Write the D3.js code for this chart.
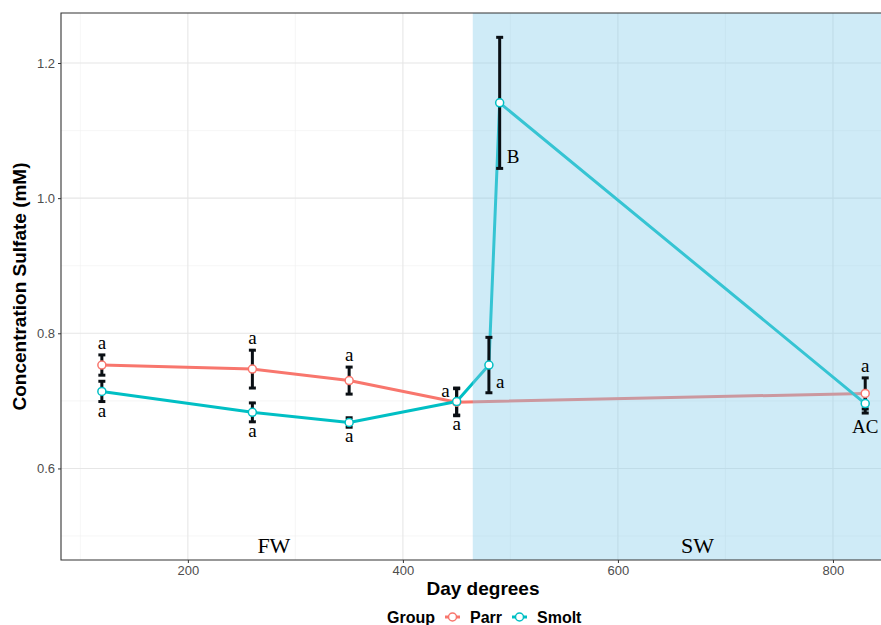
<!DOCTYPE html>
<html lang="en">
  <head>
    <meta charset="UTF-8" />
    <title>Concentration Sulfate</title>
    <style>
      body { margin: 0; background: #fff; }
      svg { display: block; }
    </style>
  </head>
  <body>
    <svg id="Chart"></svg>
    <script src="https://cdnjs.cloudflare.com/ajax/libs/d3/7.8.5/d3.min.js"></script>
    <script>
      // values
      const parrDays = [120, 260, 350, 450, 830];
      const parrMeans = [0.753, 0.747, 0.73, 0.698, 0.711];
      const parrErrors = [0.015, 0.028, 0.02, 0.02, 0.023];
      const parrLetters = ['a', 'a', 'a', 'a', 'a'];
      const parrLetterSide = ['above', 'above', 'above', 'left', 'above'];

      const smoltDays = [120, 260, 350, 450, 480, 490, 830];
      const smoltMeans = [0.714, 0.683, 0.668, 0.699, 0.753, 1.141, 0.696];
      const smoltErrors = [0.015, 0.014, 0.007, 0.02, 0.041, 0.097, 0.014];
      const smoltLetters = ['a', 'a', 'a', 'a', 'a', 'B', 'AC'];
      const smoltLetterSide = ['below', 'below', 'below', 'below', 'right', 'right', 'below'];

      const xTicks = [200, 400, 600, 800];
      const xMinor = [100, 300, 500, 700];
      const yTicks = [0.6, 0.8, 1.0, 1.2];
      const yMinor = [0.5, 0.7, 0.9, 1.1];

      const seawaterStart = 465;
      const phases = [
        { label: 'FW', x: 280 },
        { label: 'SW', x: 674 },
      ];

      function buildSeries(name, days, means, errors, letters, sides, color) {
        let points = days.map((d, i) => ({
          day: d,
          mean: means[i],
          err: errors[i],
          letter: letters[i],
          side: sides[i],
        }));
        return { name, color, points };
      }

      const series = [
        buildSeries('Parr', parrDays, parrMeans, parrErrors, parrLetters, parrLetterSide, '#F8766D'),
        buildSeries('Smolt', smoltDays, smoltMeans, smoltErrors, smoltLetters, smoltLetterSide, '#00BFC4'),
      ];

      function getConfig() {
        let width = 881;
        let height = 625;
        let panel = { left: 61, right: 905, top: 13, bottom: 560 };
        let container = d3.select('#Chart').attr('width', width).attr('height', height);
        return { width, height, panel, container };
      }

      function getScales(config) {
        let { panel } = config;
        let xScale = d3.scaleLinear().domain([82, 867]).range([panel.left, panel.right]);
        let yScale = d3.scaleLinear().domain([0.4645, 1.274]).range([panel.bottom, panel.top]);
        return { xScale, yScale };
      }

      function drawGrid(config, scales) {
        let { container, panel } = config;
        let { xScale, yScale } = scales;
        let g = container.append('g');

        g.selectAll('.xminor').data(xMinor).enter().append('line')
          .attr('x1', (d) => xScale(d)).attr('x2', (d) => xScale(d))
          .attr('y1', panel.top).attr('y2', panel.bottom)
          .attr('stroke', '#f0f0f0').attr('stroke-width', 0.6);
        g.selectAll('.yminor').data(yMinor).enter().append('line')
          .attr('y1', (d) => yScale(d)).attr('y2', (d) => yScale(d))
          .attr('x1', panel.left).attr('x2', panel.right)
          .attr('stroke', '#f0f0f0').attr('stroke-width', 0.6);
        g.selectAll('.xmajor').data(xTicks).enter().append('line')
          .attr('x1', (d) => xScale(d)).attr('x2', (d) => xScale(d))
          .attr('y1', panel.top).attr('y2', panel.bottom)
          .attr('stroke', '#e6e6e6').attr('stroke-width', 1.1);
        g.selectAll('.ymajor').data(yTicks).enter().append('line')
          .attr('y1', (d) => yScale(d)).attr('y2', (d) => yScale(d))
          .attr('x1', panel.left).attr('x2', panel.right)
          .attr('stroke', '#e6e6e6').attr('stroke-width', 1.1);
      }

      function drawLines(config, scales) {
        let { container } = config;
        let { xScale, yScale } = scales;
        let line = d3.line().x((d) => xScale(d.day)).y((d) => yScale(d.mean));

        container.append('g').selectAll('path').data(series).enter().append('path')
          .attr('d', (s) => line(s.points))
          .attr('fill', 'none')
          .attr('stroke', (s) => s.color)
          .attr('stroke-width', 3)
          .attr('stroke-linejoin', 'round');
      }

      function drawPoints(config, scales) {
        let { container } = config;
        let { xScale, yScale } = scales;

        // error bars
        let bars = container.append('g');
        series.forEach((s) => {
          let eb = bars.selectAll(null).data(s.points).enter().append('g')
            .attr('stroke', '#0a0f14')
            .attr('stroke-width', 3);
          eb.append('line')
            .attr('x1', (d) => xScale(d.day)).attr('x2', (d) => xScale(d.day))
            .attr('y1', (d) => yScale(d.mean - d.err)).attr('y2', (d) => yScale(d.mean + d.err));
          eb.append('line')
            .attr('x1', (d) => xScale(d.day) - 3.5).attr('x2', (d) => xScale(d.day) + 3.5)
            .attr('y1', (d) => yScale(d.mean + d.err)).attr('y2', (d) => yScale(d.mean + d.err));
          eb.append('line')
            .attr('x1', (d) => xScale(d.day) - 3.5).attr('x2', (d) => xScale(d.day) + 3.5)
            .attr('y1', (d) => yScale(d.mean - d.err)).attr('y2', (d) => yScale(d.mean - d.err));
        });

        let pts = container.append('g');
        series.forEach((s) => {
          pts.selectAll(null).data(s.points).enter().append('circle')
            .attr('cx', (d) => xScale(d.day))
            .attr('cy', (d) => yScale(d.mean))
            .attr('r', 4)
            .attr('fill', '#fff')
            .attr('stroke', s.color)
            .attr('stroke-width', 1.5);
        });
      }

      function drawShading(config, scales) {
        let { container, panel } = config;
        let { xScale } = scales;
        container.append('rect')
          .attr('x', xScale(seawaterStart))
          .attr('y', panel.top)
          .attr('width', panel.right - xScale(seawaterStart))
          .attr('height', panel.bottom - panel.top)
          .attr('fill', '#87ceeb')
          .attr('fill-opacity', 0.4);
      }

      function letterPosition(d, xScale, yScale) {
        let x = xScale(d.day);
        let top = yScale(d.mean + d.err);
        let bottom = yScale(d.mean - d.err);
        if (d.side === 'above') return { x, y: top - 6, anchor: 'middle' };
        if (d.side === 'below') return { x, y: bottom + (d.letter === d.letter.toLowerCase() ? 15 : 20), anchor: 'middle' };
        if (d.side === 'left') return { x: x - 7, y: yScale(d.mean) - 5, anchor: 'end' };
        return { x: x + 7, y: bottom - 5, anchor: 'start' };
      }

      function drawLetters(config, scales) {
        let { container } = config;
        let { xScale, yScale } = scales;
        let g = container.append('g')
          .style('font-family', '"Liberation Serif", "Times New Roman", serif')
          .style('font-size', '19px')
          .attr('fill', '#000');

        series.forEach((s) => {
          g.selectAll(null).data(s.points).enter().append('text')
            .each(function (d) {
              let p = letterPosition(d, xScale, yScale);
              d3.select(this).attr('x', p.x).attr('y', p.y).attr('text-anchor', p.anchor);
            })
            .text((d) => d.letter);
        });

        g.selectAll('.phase').data(phases).enter().append('text')
          .attr('x', (d) => xScale(d.x))
          .attr('y', 553)
          .attr('text-anchor', 'middle')
          .style('font-size', '22px')
          .text((d) => d.label);
      }

      function drawAxes(config, scales) {
        let { container, panel } = config;
        let { xScale, yScale } = scales;

        let axisX = d3.axisBottom(xScale).tickValues(xTicks).tickSize(3).tickPadding(3);
        let gx = container.append('g')
          .attr('transform', `translate(0,${panel.bottom})`)
          .call(axisX);
        let axisY = d3.axisLeft(yScale).tickValues(yTicks).tickSize(3).tickPadding(3)
          .tickFormat(d3.format('.1f'));
        let gy = container.append('g')
          .attr('transform', `translate(${panel.left},0)`)
          .call(axisY);

        [gx, gy].forEach((g) => {
          g.select('.domain').remove();
          g.selectAll('.tick line').attr('stroke', '#333333');
          g.selectAll('.tick text')
            .attr('fill', '#4d4d4d')
            .style('font-family', '"Liberation Sans", Arial, sans-serif')
            .style('font-size', '13px');
        });

        // panel border (right side is off the page)
        container.append('path')
          .attr('d', `M${panel.right},${panel.top}H${panel.left}V${panel.bottom}H${panel.right}`)
          .attr('fill', 'none')
          .attr('stroke', '#333333')
          .attr('stroke-width', 1.1);

        let mid = (panel.left + panel.right) / 2;
        container.append('text')
          .attr('x', mid)
          .attr('y', 595)
          .attr('text-anchor', 'middle')
          .style('font-family', '"Liberation Sans", Arial, sans-serif')
          .style('font-size', '19px')
          .style('font-weight', 'bold')
          .text('Day degrees');

        container.append('text')
          .attr('transform', `translate(26,${(panel.top + panel.bottom) / 2}) rotate(-90)`)
          .attr('text-anchor', 'middle')
          .style('font-family', '"Liberation Sans", Arial, sans-serif')
          .style('font-size', '19px')
          .style('font-weight', 'bold')
          .text('Concentration Sulfate (mM)');
      }

      function drawLegend(config) {
        let { container } = config;
        let g = container.append('g')
          .style('font-family', '"Liberation Sans", Arial, sans-serif')
          .style('font-size', '16px')
          .style('font-weight', 'bold');
        let y = 617;

        g.append('text').attr('x', 387).attr('y', y + 6).text('Group');

        let keyX = [445, 512];
        let labelX = [470, 537];
        series.forEach((s, i) => {
          g.append('line')
            .attr('x1', keyX[i]).attr('x2', keyX[i] + 15)
            .attr('y1', y).attr('y2', y)
            .attr('stroke', s.color).attr('stroke-width', 3);
          g.append('circle')
            .attr('cx', keyX[i] + 7.5).attr('cy', y).attr('r', 4)
            .attr('fill', '#fff').attr('stroke', s.color).attr('stroke-width', 1.5);
          g.append('text').attr('x', labelX[i]).attr('y', y + 6).text(s.name);
        });
      }

      function showChart() {
        let config = getConfig();
        let scales = getScales(config);
        drawGrid(config, scales);
        drawLines(config, scales);
        drawShading(config, scales);
        drawPoints(config, scales);
        drawLetters(config, scales);
        drawAxes(config, scales);
        drawLegend(config);
      }

      showChart();
    </script>
  </body>
</html>
